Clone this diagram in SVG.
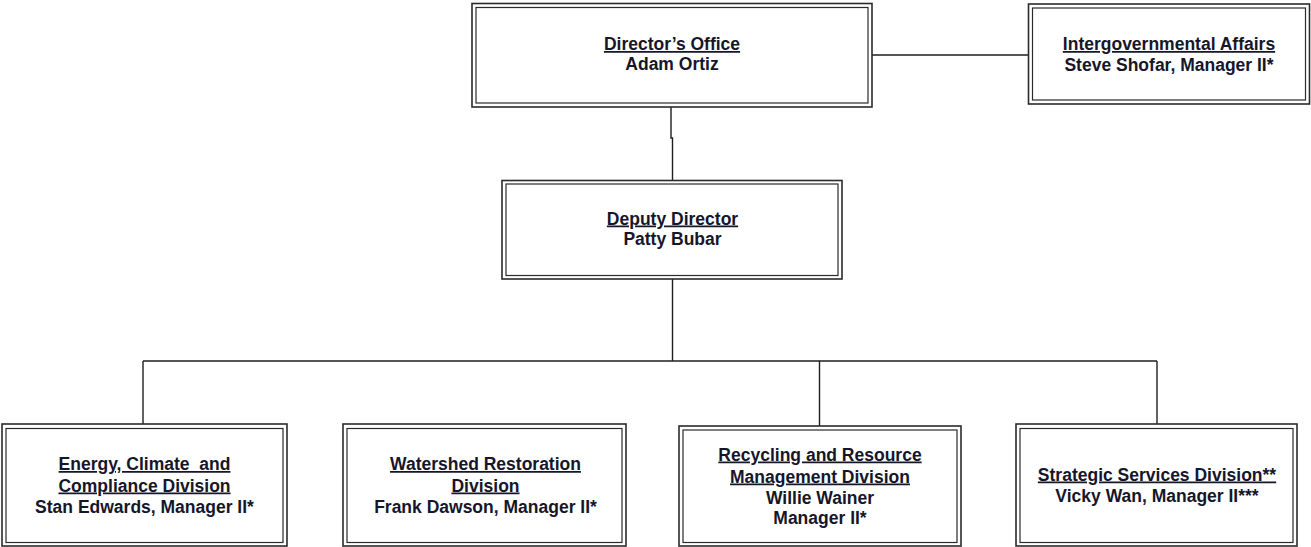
<svg xmlns="http://www.w3.org/2000/svg" width="1311" height="547" viewBox="0 0 1311 547">
  <style>
    .outer { fill: #ffffff; stroke: #2b2b2b; stroke-width: 1.6; }
    .inner { fill: none; stroke: #2b2b2b; stroke-width: 1.2; }
    .wire { fill: none; stroke: #1e1e1e; stroke-width: 1.4; }
    text { font-family: "Liberation Sans", Arial, sans-serif; font-size: 17.5px; font-weight: bold; fill: #16162a; text-anchor: middle; white-space: pre; }
    .title { text-decoration: underline; }
  </style>

  <!-- reporting lines -->
  <g id="connectors">
    <path class="wire" d="M872 55 H1028"/>
    <path class="wire" d="M671 107 V138 H672.5 V180.5"/>
    <path class="wire" d="M672.5 279 V361"/>
    <path class="wire" d="M143 361 H1157"/>
    <path class="wire" d="M143 361 V424"/>
    <path class="wire" d="M819.5 361 V426"/>
    <path class="wire" d="M1157 361 V424"/>
  </g>

  <g id="directors-office">
    <rect class="outer" x="472" y="3.5" width="400" height="103.5"/>
    <rect class="inner" x="476" y="7.5" width="392" height="95.5"/>
    <text x="672" y="50" class="title">Director’s Office</text>
    <text x="672" y="70">Adam Ortiz</text>
  </g>

  <g id="intergovernmental-affairs">
    <rect class="outer" x="1028.5" y="4" width="281" height="100"/>
    <rect class="inner" x="1032.5" y="8" width="273" height="92"/>
    <text x="1169" y="50" class="title">Intergovernmental Affairs</text>
    <text x="1169" y="70.5">Steve Shofar, Manager II*</text>
  </g>

  <g id="deputy-director">
    <rect class="outer" x="502" y="180.5" width="340" height="98.5"/>
    <rect class="inner" x="506" y="184" width="332" height="91.5"/>
    <text x="672.5" y="224.5" class="title">Deputy Director</text>
    <text x="672.5" y="245">Patty Bubar</text>
  </g>

  <g id="energy-climate-compliance">
    <rect class="outer" x="2" y="424" width="285" height="122"/>
    <rect class="inner" x="6" y="428.5" width="277" height="114"/>
    <text x="144.5" y="470" class="title" xml:space="preserve">Energy, Climate  and</text>
    <text x="144.5" y="491.5" class="title">Compliance Division</text>
    <text x="144.5" y="512.5">Stan Edwards, Manager II*</text>
  </g>

  <g id="watershed-restoration">
    <rect class="outer" x="343" y="424" width="283" height="122"/>
    <rect class="inner" x="347" y="428.5" width="275" height="114"/>
    <text x="485.5" y="470" class="title">Watershed Restoration</text>
    <text x="485.5" y="491.5" class="title">Division</text>
    <text x="485.5" y="512.5">Frank Dawson, Manager II*</text>
  </g>

  <g id="recycling-resource-management">
    <rect class="outer" x="679" y="426" width="282" height="120"/>
    <rect class="inner" x="683" y="430" width="274" height="112.5"/>
    <text x="820" y="460.5" class="title">Recycling and Resource</text>
    <text x="820" y="482.5" class="title">Management Division</text>
    <text x="820" y="503.5">Willie Wainer</text>
    <text x="820" y="524">Manager II*</text>
  </g>

  <g id="strategic-services">
    <rect class="outer" x="1016" y="424" width="281" height="122"/>
    <rect class="inner" x="1020" y="428.5" width="273" height="114"/>
    <text x="1157" y="480.5" class="title">Strategic Services Division**</text>
    <text x="1157" y="501.5">Vicky Wan, Manager II***</text>
  </g>
</svg>
